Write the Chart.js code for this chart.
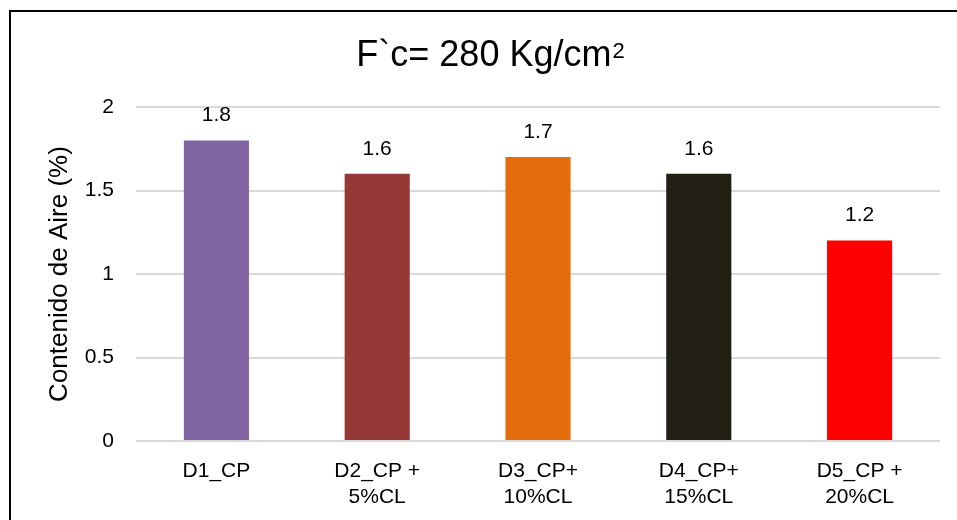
<!DOCTYPE html>
<html>
<head>
<meta charset="utf-8">
<script src="https://cdn.jsdelivr.net/npm/chart.js@4.4.1/dist/chart.umd.min.js"></script>
<style>
  body { margin: 0; background: #fff; }
  #wrap { position: relative; width: 957px; height: 520px; overflow: hidden; }
  #frame { position: absolute; left: 9px; top: 10px; width: 1000px; height: 600px;
           border-left: 2px solid #000; border-top: 2px solid #000; box-sizing: border-box; }
  canvas { position: absolute; left: 0; top: 0; }
</style>
</head>
<body>
<div id="wrap">
  <div id="frame"></div>
  <canvas id="myChart" width="957" height="520"></canvas>
</div>
<script>
// data
const categories = [["D1_CP"], ["D2_CP +", "5%CL"], ["D3_CP+", "10%CL"], ["D4_CP+", "15%CL"], ["D5_CP +", "20%CL"]];
const airContent = [1.8, 1.6, 1.7, 1.6, 1.2];
const barColors = ["#8064A2", "#953735", "#E46C0A", "#211E13", "#FF0000"];
const yTicks = [0, 0.5, 1, 1.5, 2];
const titleMain = "F`c= 280 Kg/cm";
const titleSup = "2";

const fontName = "'Liberation Sans', Arial, sans-serif";

// title with a raised "2"
const titlePlugin = {
    id: 'titlePlugin',
    afterDraw(chart) {
        const ctx = chart.ctx;
        ctx.save();
        ctx.fillStyle = "#000";
        ctx.textBaseline = "alphabetic";
        ctx.font = "36px " + fontName;
        const w1 = ctx.measureText(titleMain).width;
        ctx.font = "22px " + fontName;
        const w2 = ctx.measureText(titleSup).width;
        const x0 = 490 - (w1 + w2) / 2;
        ctx.font = "36px " + fontName;
        ctx.textAlign = "left";
        ctx.fillText(titleMain, x0, 66);
        ctx.font = "22px " + fontName;
        ctx.fillText(titleSup, x0 + w1 + 1, 58);
        ctx.restore();
    }
};

// value labels over the bars
const valueLabels = {
    id: 'valueLabels',
    afterDatasetsDraw(chart) {
        const ctx = chart.ctx;
        const meta = chart.getDatasetMeta(0);
        ctx.save();
        ctx.font = "21px " + fontName;
        ctx.fillStyle = "#000";
        ctx.textAlign = "center";
        ctx.textBaseline = "middle";
        meta.data.forEach((bar, i) => {
            ctx.fillText(String(airContent[i]), bar.x, bar.y - 25);
        });
        ctx.restore();
    }
};

const ctx = document.getElementById('myChart');

let chart1 = new Chart(ctx, {
    type: 'bar',
    data: {
        labels: categories,
        datasets: [{
            data: airContent,
            backgroundColor: barColors,
            borderWidth: 0,
            barPercentage: 0.405,
            categoryPercentage: 1
        }]
    },
    options: {
        responsive: false,
        animation: false,
        layout: { padding: { left: 0, right: 17, top: 107, bottom: 0 } },
        plugins: {
            legend: { display: false },
            tooltip: { enabled: false },
            title: { display: false }
        },
        scales: {
            x: {
                grid: { display: false },
                border: { display: false },
                ticks: {
                    color: "#000",
                    font: { family: fontName, size: 21, lineHeight: 1.24 },
                    padding: 9,
                    maxRotation: 0,
                    autoSkip: false
                },
                afterFit(scale) { scale.height = 79; }
            },
            y: {
                min: 0,
                max: 2,
                afterBuildTicks(scale) { scale.ticks = yTicks.map(v => ({ value: v })); },
                grid: { color: "#D9D9D9", lineWidth: 2, drawTicks: false },
                border: { display: false },
                ticks: {
                    color: "#000",
                    font: { family: fontName, size: 21 },
                    padding: 22,
                    callback: (v) => String(v)
                },
                title: {
                    display: true,
                    text: "Contenido de Aire (%)",
                    color: "#000",
                    font: { family: fontName, size: 26 },
                    padding: { top: 44, bottom: 0 }
                },
                afterFit(scale) { scale.width = 136; }
            }
        }
    },
    plugins: [valueLabels, titlePlugin]
});
</script>
</body>
</html>
